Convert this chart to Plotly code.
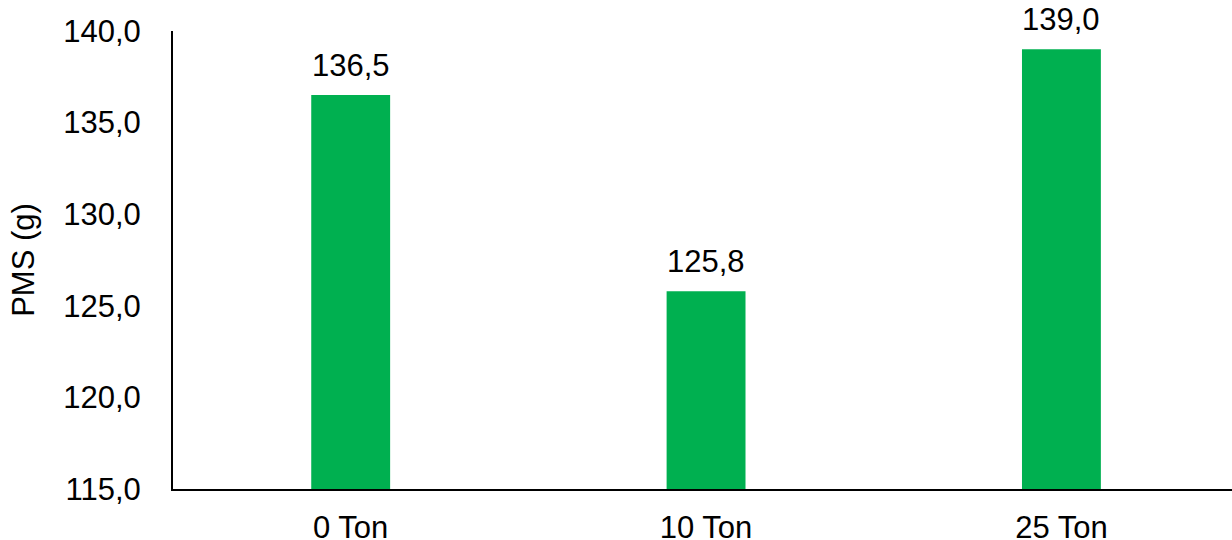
import plotly.graph_objects as go

categories = ["0 Ton", "10 Ton", "25 Ton"]
values = [136.5, 125.8, 139.0]
tick_vals = [115, 120, 125, 130, 135, 140]
tick_text = ["115,0", "120,0", "125,0", "130,0", "135,0", "140,0"]
labels = [f"{v:.1f}".replace(".", ",") for v in values]

FONT = "Liberation Sans, Arial, sans-serif"
FS = 31

fig = go.Figure()
fig.add_trace(go.Bar(
    x=list(range(len(categories))), y=values,
    marker=dict(color="#00B050", line=dict(width=0)),
    width=0.222,
))

for i, (v, t) in enumerate(zip(values, labels)):
    fig.add_annotation(x=i, y=v, text=t, showarrow=False, yanchor="bottom",
                       yshift=10, font=dict(family=FONT, size=FS, color="black"))

fig.update_layout(
    width=1232, height=540,
    margin=dict(l=173, r=0, t=31, b=51),
    paper_bgcolor="white", plot_bgcolor="white",
    showlegend=False,
    font=dict(family=FONT, size=FS, color="black"),
    xaxis=dict(
        range=[-0.5, 2.48], tickmode="array",
        tickvals=list(range(len(categories))), ticktext=categories,
        showline=True, linecolor="black", linewidth=2,
        showgrid=False, zeroline=False, ticks="",
        ticklabelstandoff=10, automargin=False,
        tickfont=dict(family=FONT, size=FS, color="black"),
    ),
    yaxis=dict(
        range=[115, 140], tickmode="array", tickvals=tick_vals, ticktext=tick_text,
        showline=True, linecolor="black", linewidth=2,
        showgrid=False, zeroline=False, ticks="",
        ticklabelstandoff=24, automargin=False,
        tickfont=dict(family=FONT, size=FS, color="black"),
        title=dict(text="PMS (g)", font=dict(family=FONT, size=FS, color="black"), standoff=19),
    ),
)

fig.write_html("out.html")
